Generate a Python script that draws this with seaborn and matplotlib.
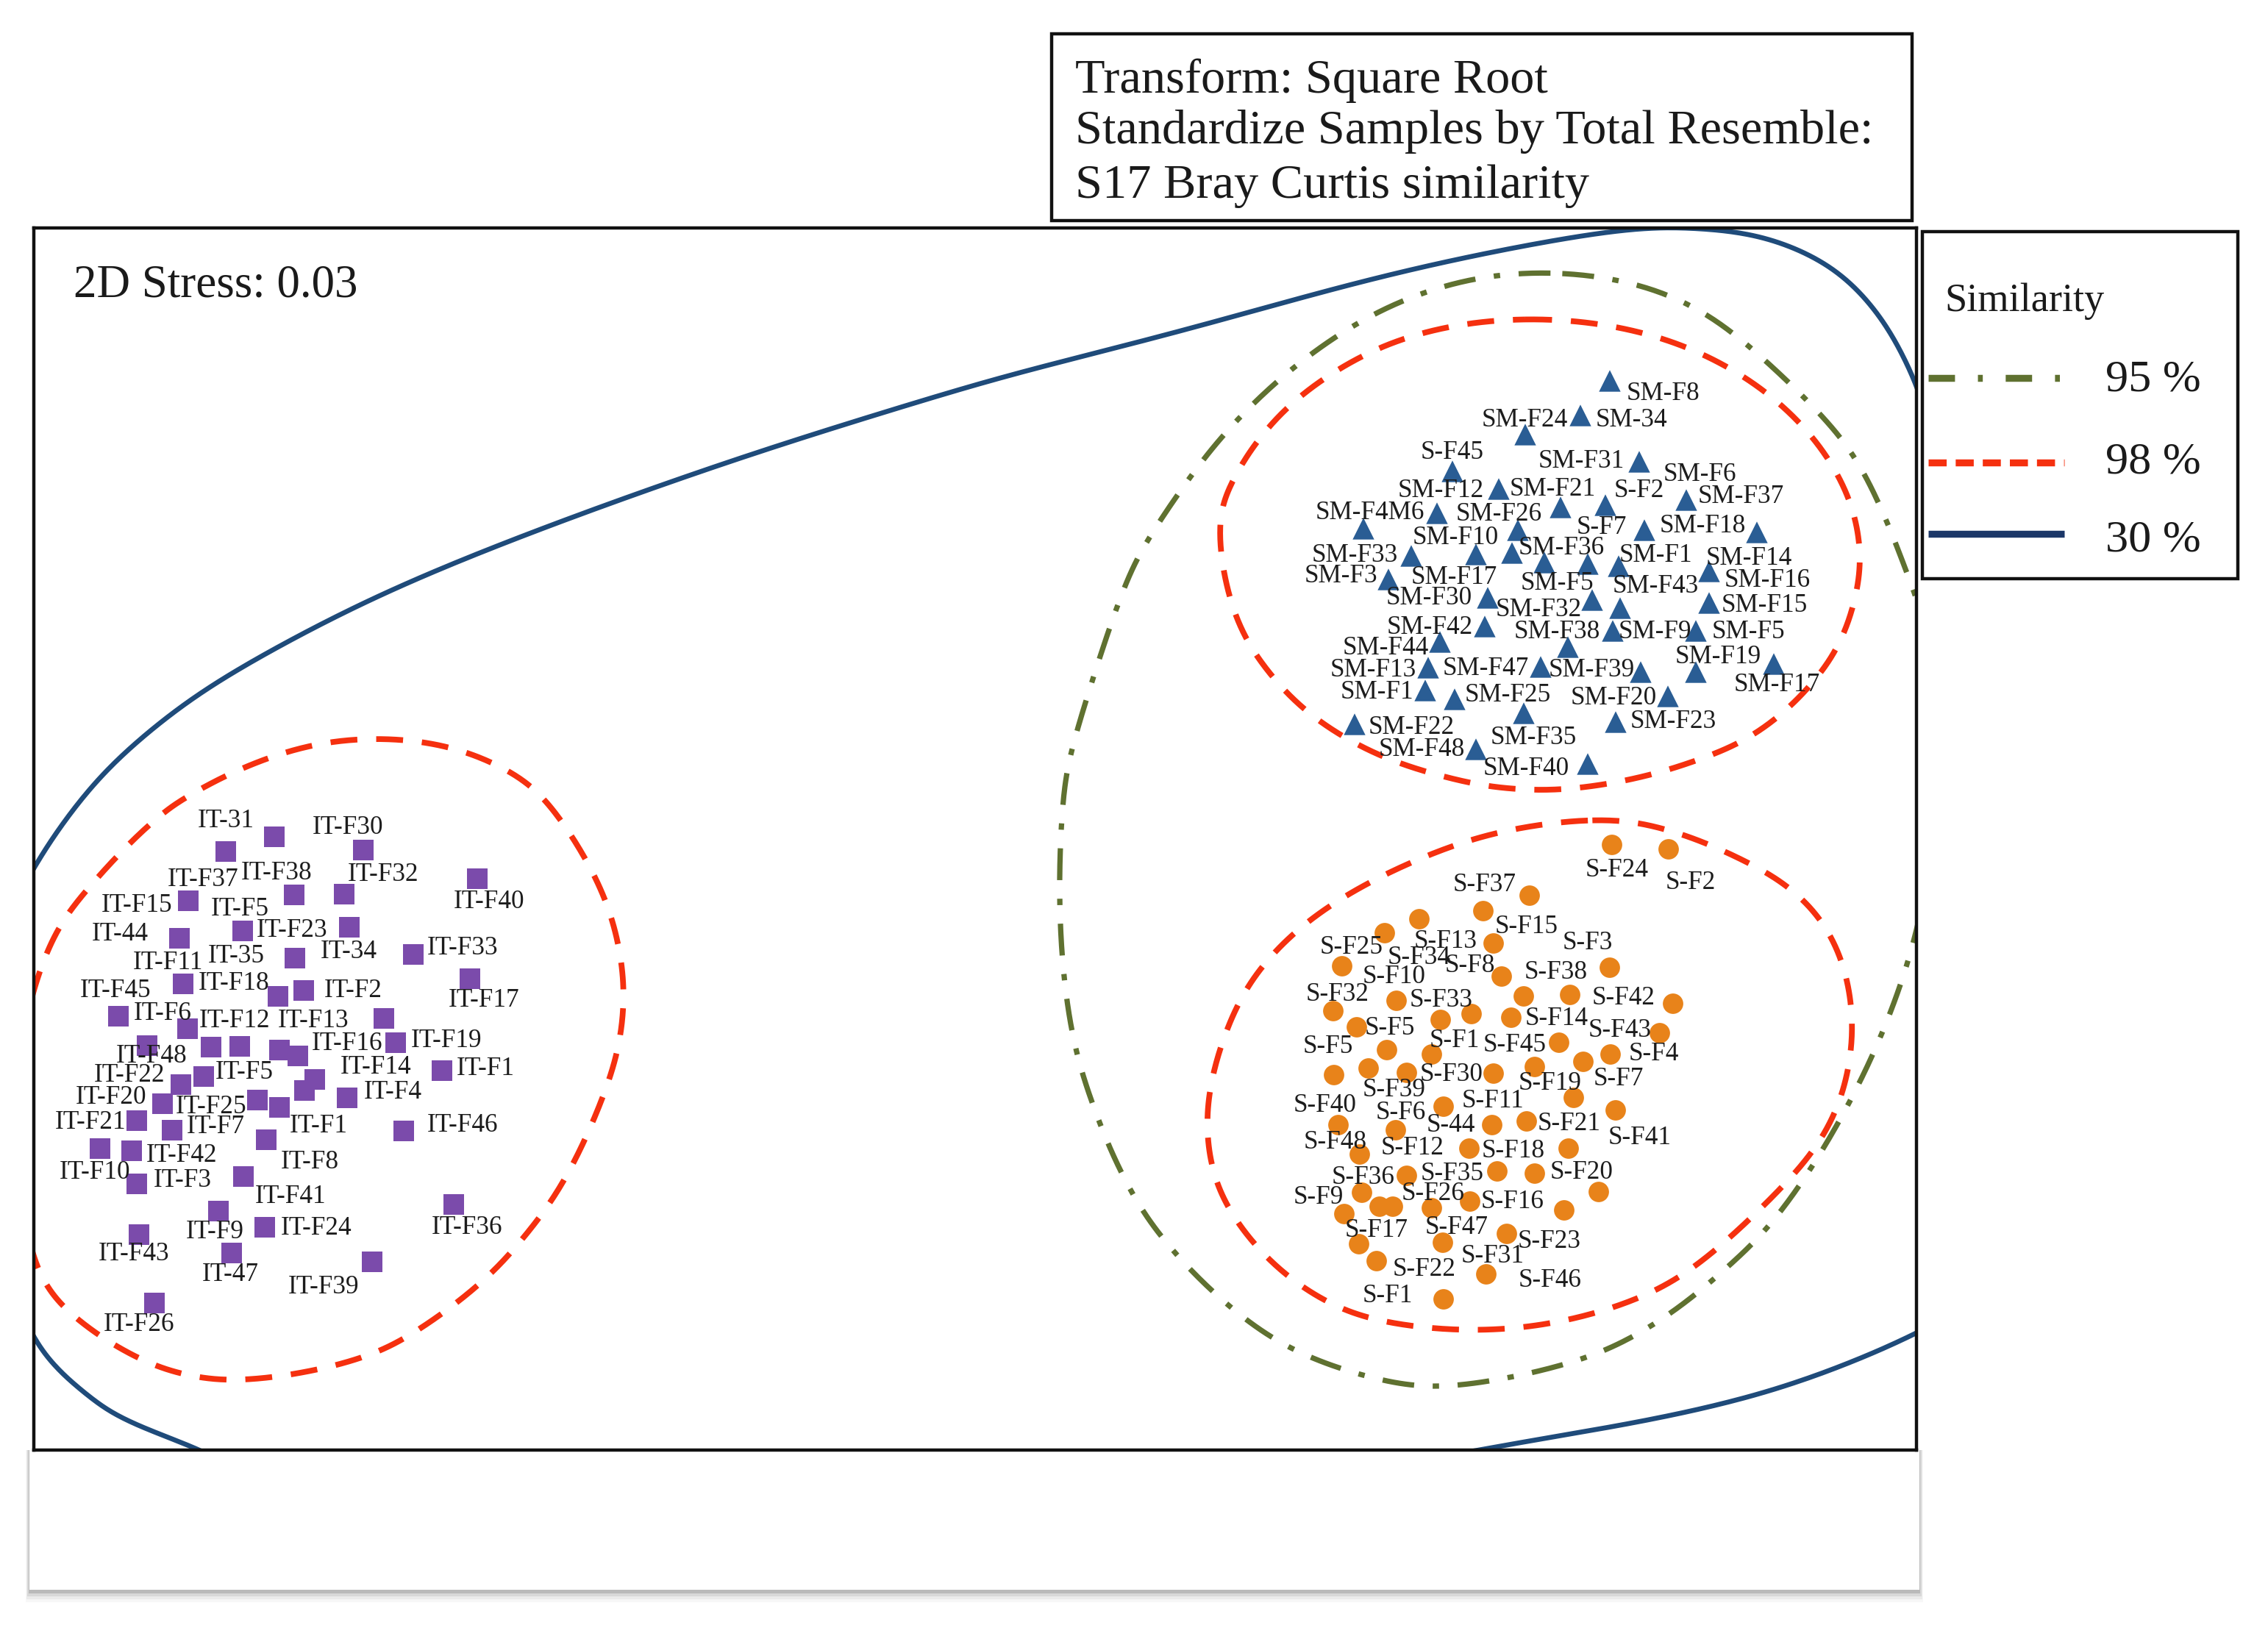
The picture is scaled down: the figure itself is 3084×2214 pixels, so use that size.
import matplotlib
matplotlib.use("Agg")
import matplotlib.pyplot as plt
from matplotlib.patches import Rectangle
import numpy as np
import pandas as pd
import seaborn as sns

# ordination positions, in reference pixels
it_x = [307,373,494,649,256,400,468,244,330,475,401,562,249,378,413,639,161,522,255,200,287,326,380,405,538,601,277,246,428,414,221,350,380,472,186,234,362,549,136,179,186,331,297,360,617,189,315,506,210]
it_y = [1158,1138,1156,1195,1225,1217,1216,1276,1266,1261,1303,1298,1338,1355,1347,1331,1382,1385,1399,1422,1424,1423,1428,1436,1418,1456,1464,1475,1468,1483,1501,1496,1506,1493,1524,1537,1550,1538,1562,1565,1610,1600,1647,1669,1638,1679,1704,1716,1772]

sm_x = [2189,2149,2074,2229,1975,2038,2293,2122,2183,1954,1854,2064,2236,2389,1919,2007,2056,2100,2159,2201,2324,1888,2023,2165,2324,2203,2019,2193,2306,1958,2132,1942,2095,2231,2306,2412,1938,1978,2268,2072,2197,1842,2007,2159]
sm_y = [518,565,591,628,641,665,680,690,687,698,719,721,721,724,756,754,752,765,767,770,777,788,813,816,820,827,852,858,858,873,880,908,907,914,914,903,939,951,947,970,982,985,1019,1039]

s_x = [2192,2269,2080,2017,1930,1883,2031,1825,2189,2042,2072,2135,1899,2275,1813,2001,2055,1959,1845,2257,2120,1886,1947,2190,2153,2087,1861,1913,1814,2031,2140,1963,2197,2076,2029,1820,1898,2133,1849,1998,2036,2087,1913,1852,2174,1876,1894,1999,1947,2127,1828,2049,1848,1962,1872,2021,1963]
s_y = [1149,1155,1218,1239,1250,1269,1283,1314,1316,1328,1355,1353,1361,1365,1375,1379,1384,1387,1397,1405,1418,1428,1434,1434,1444,1451,1453,1459,1462,1460,1493,1505,1510,1525,1530,1530,1537,1562,1570,1562,1593,1596,1599,1622,1621,1641,1641,1634,1643,1646,1651,1678,1692,1690,1715,1733,1767]

# sample names and where they sit
it_names = ["IT-31","IT-F30","IT-F38","IT-F32","IT-F37","IT-F40","IT-F15","IT-F5","IT-F23","IT-44","IT-F33","IT-34","IT-35","IT-F11","IT-F18","IT-F2","IT-F45","IT-F17","IT-F6","IT-F12","IT-F13","IT-F19","IT-F16","IT-F48","IT-F14","IT-F1","IT-F5","IT-F22","IT-F4","IT-F20","IT-F25","IT-F21","IT-F7","IT-F1","IT-F46","IT-F42","IT-F8","IT-F10","IT-F3","IT-F41","IT-F24","IT-F36","IT-F9","IT-F43","IT-47","IT-F39","IT-F26"]
it_lx = [307,473,376,521,276,665,186,326,397,163,629,474,321,228,318,480,157,658,221,319,426,607,472,206,511,660,332,176,534,151,287,123,293,433,629,247,421,129,248,395,430,635,292,182,313,440,189]
it_ly = [1114,1123,1185,1187,1194,1224,1229,1234,1263,1268,1287,1292,1298,1307,1335,1345,1345,1358,1376,1386,1386,1413,1417,1434,1449,1451,1456,1460,1483,1490,1503,1524,1530,1529,1528,1569,1578,1592,1603,1625,1668,1667,1673,1703,1731,1748,1799]

sm_names = ["SM-F8","SM-F24","SM-34","S-F45","SM-F31","SM-F6","SM-F12","SM-F21","S-F2","SM-F37","SM-F4M6","SM-F26","S-F7","SM-F18","SM-F10","SM-F36","SM-F33","SM-F1","SM-F14","SM-F3","SM-F17","SM-F5","SM-F16","SM-F43","SM-F30","SM-F15","SM-F32","SM-F42","SM-F38","SM-F9","SM-F5","SM-F44","SM-F19","SM-F13","SM-F47","SM-F39","SM-F17","SM-F1","SM-F25","SM-F20","SM-F23","SM-F22","SM-F35","SM-F48","SM-F40"]
sm_lx = [2262,2073,2218,1975,2150,2311,1959,2111,2229,2367,1863,2038,2178,2315,1979,2123,1842,2251,2378,1823,1977,2117,2403,2251,1943,2399,2092,1944,2117,2250,2377,1884,2336,1867,2020,2164,2416,1872,2050,2194,2275,1919,2085,1933,2075]
sm_ly = [533,569,568,612,624,643,665,662,664,673,695,696,715,713,729,743,753,752,756,781,783,790,786,795,811,820,826,850,857,856,857,879,891,908,907,908,928,939,943,946,979,987,1000,1016,1043]

s_names = ["S-F24","S-F2","S-F37","S-F15","S-F13","S-F3","S-F25","S-F34","S-F8","S-F38","S-F10","S-F32","S-F42","S-F33","S-F14","S-F5","S-F43","S-F1","S-F45","S-F5","S-F4","S-F30","S-F7","S-F39","S-F19","S-F11","S-F40","S-F6","S-F21","S-44","S-F41","S-F48","S-F12","S-F18","S-F35","S-F20","S-F36","S-F26","S-F9","S-F16","S-F47","S-F17","S-F23","S-F31","S-F22","S-F46","S-F1"]
s_lx = [2199,2299,2019,2076,1966,2159,1838,1930,1999,2116,1896,1819,2208,1960,2117,1890,2203,1978,2060,1806,2249,1974,2201,1896,2108,2030,1802,1905,2134,1973,2230,1816,1921,2058,1975,2151,1854,1949,1793,2057,1981,1872,2107,2030,1937,2108,1887]
s_ly = [1181,1198,1201,1258,1278,1280,1286,1300,1311,1320,1326,1350,1355,1358,1383,1396,1399,1413,1419,1421,1431,1459,1465,1480,1471,1495,1501,1511,1526,1528,1545,1551,1559,1563,1594,1592,1599,1621,1626,1632,1667,1671,1686,1706,1724,1739,1760]

# similarity contours, traced points
red_it_x = [66,104,176,230,273,383,517,632,702,746,806,839,850,839,817,768,713,658,565,510,439,335,269,214,154,93,52,32,22,30]
red_it_y = [1286,1226,1146,1099,1073,1020,1001,1020,1055,1091,1182,1269,1357,1434,1500,1609,1681,1744,1812,1840,1862,1878,1873,1859,1829,1785,1733,1650,1530,1400]
red_sm_x = [2077,2216,2324,2420,2495,2528,2528,2506,2476,2432,2372,2312,2240,2143,2078,2019,1959,1899,1840,1790,1750,1710,1680,1662,1658,1679,1733,1830,1937]
red_sm_y = [431,446,484,545,632,720,795,867,915,964,1008,1032,1056,1073,1074,1069,1055,1037,1010,978,943,895,840,770,700,648,566,494,449]
red_s_x = [2163,2047,1939,1815,1732,1682,1649,1640,1653,1690,1740,1815,1897,2013,2130,2229,2312,2411,2486,2515,2519,2503,2453,2387,2312,2237]
red_s_y = [1114,1128,1163,1224,1294,1364,1457,1534,1611,1673,1728,1778,1801,1811,1797,1766,1720,1627,1542,1449,1379,1294,1221,1178,1143,1120]
green_x = [2103,1958,1830,1722,1636,1561,1524,1462,1446,1439,1450,1470,1504,1545,1603,1698,1790,1897,1984,2121,2212,2295,2370,2428,2511,2569,2600,2625,2640,2630,2601,2587,2538,2474,2367,2259]
green_y = [367,387,446,530,622,734,806,1000,1077,1224,1364,1457,1550,1635,1712,1801,1851,1882,1886,1859,1824,1770,1704,1642,1511,1383,1290,1180,1050,900,800,765,642,561,459,392]
blue_top_x = [20,46,113,190,277,383,507,670,861,1053,1244,1400,1615,1830,2044,2206,2281,2367,2453,2528,2581,2608,2625]
blue_top_y = [1230,1179,1080,1005,938,877,813,744,673,607,548,502,449,387,339,312,310,315,341,392,469,530,580]
blue_left_x = [30,50,83,124,174,272,310]
blue_left_y = [1785,1827,1867,1901,1935,1970,1995]
blue_right_x = [1900,2010,2146,2312,2478,2606,2640]
blue_right_y = [1992,1972,1948,1918,1870,1813,1795]

levels = ["95 %", "98 %", "30 %"]
title_lines = ["Transform: Square Root", "Standardize Samples by Total Resemble:", "S17 Bray Curtis similarity"]

RED = "#f5300f"
GREEN = "#5f7130"
BLUE = "#1f4b7a"


def smooth(px, py, closed=True, n=24):
    # catmull-rom through the traced points, then a moving average to take the wobble out
    p = np.column_stack([px, py]).astype(float)
    if closed:
        p = np.vstack([p[-1], p, p[0], p[1]])
    else:
        p = np.vstack([2 * p[0] - p[1], p, 2 * p[-1] - p[-2]])
    t = np.linspace(0, 1, n, endpoint=False)[:, None]
    out = []
    for i in range(1, len(p) - 2):
        a, b, c, d = p[i - 1], p[i], p[i + 1], p[i + 2]
        out.append(0.5 * (2 * b + (c - a) * t + (2 * a - 5 * b + 4 * c - d) * t**2 + (3 * b - a - 3 * c + d) * t**3))
    out.append(p[-2][None, :])
    c = np.vstack(out)
    w = int(n * 1.5)
    if closed:
        pad = np.vstack([c[-w - 1:-1], c, c[1:w + 1]])
    else:
        pad = np.vstack([2 * c[0] - c[w:0:-1], c, 2 * c[-1] - c[-2:-w - 2:-1]])
    kernel = np.ones(w) / w
    res = np.column_stack([np.convolve(pad[:, j], kernel, mode="same") for j in range(2)])
    return res[w:-w]


sns.set_theme(style="white")
plt.rcParams["font.family"] = ["Liberation Serif", "DejaVu Serif"]

fig = plt.figure(figsize=(15.42, 11.07), dpi=200)

# background layer in page pixels: boxes, legend, shadowed block
bg = fig.add_axes([0, 0, 1, 1])
bg.set_xlim(0, 3084)
bg.set_ylim(2214, 0)
bg.axis("off")

for grow, alpha in [(16, 0.05), (12, 0.08), (8, 0.14), (4, 0.26)]:
    bg.add_patch(Rectangle((40 - grow / 3, 1972), 2570 + 2 * grow / 3, 191 + grow, fc="#666666", ec="none", alpha=alpha))
bg.add_patch(Rectangle((40, 1972), 2570, 190, fc="white", ec="none"))

bg.add_patch(Rectangle((1430, 46), 1170, 254, fc="white", ec="#111111", lw=1.6))
for text, yy in zip(title_lines, [110, 179, 253]):
    bg.text(1462, yy, text, fontsize=23.9, va="center", ha="left", color="#1a1a1a")

bg.add_patch(Rectangle((2614, 315), 429, 472, fc="white", ec="#111111", lw=1.6))
bg.text(2644, 410, "Similarity", fontsize=19.6, va="center", ha="left", color="#1a1a1a")
for text, ty, ly, col, dash in zip(levels, [517, 629, 735], [514, 629, 726],
                                   [GREEN, RED, "#1b3768"], [(3.8, 3.3, 0.7, 3.3), (2.6, 1.3), None]):
    line, = bg.plot([2622, 2807], [ly, ly], color=col, lw=3.4, solid_capstyle="butt", dash_capstyle="butt")
    if dash:
        line.set_dashes(dash)
    bg.text(2863, ty, text, fontsize=22.4, va="center", ha="left", color="#1a1a1a")

# main plot, axes box is the frame of the ordination
ax = fig.add_axes([46 / 3084, 1 - 1972 / 2214, 2560 / 3084, 1662 / 2214])
ax.set_facecolor("white")

points = pd.concat([
    pd.DataFrame({"x": it_x, "y": it_y, "group": "IT"}),
    pd.DataFrame({"x": sm_x, "y": sm_y, "group": "SM"}),
    pd.DataFrame({"x": s_x, "y": s_y, "group": "S"}),
])
sns.scatterplot(data=points, x="x", y="y", hue="group", style="group",
                palette={"IT": "#7b4bab", "SM": "#2a5d94", "S": "#e8831a"},
                markers={"IT": "s", "SM": "^", "S": "o"},
                size="group", sizes={"IT": 106, "SM": 112, "S": 100},
                linewidth=0, legend=False, ax=ax, zorder=3)

for px, py in [(red_it_x, red_it_y), (red_sm_x, red_sm_y), (red_s_x, red_s_y)]:
    c = smooth(px, py)
    line, = ax.plot(c[:, 0], c[:, 1], color=RED, lw=2.8, dash_capstyle="butt", zorder=2)
    line.set_dashes((4.7, 3.3))
c = smooth(green_x, green_y)
line, = ax.plot(c[:, 0], c[:, 1], color=GREEN, lw=2.6, dash_capstyle="butt", zorder=1.5)
line.set_dashes((6, 3.5, 1.2, 3.5))
for px, py in [(blue_top_x, blue_top_y), (blue_left_x, blue_left_y), (blue_right_x, blue_right_y)]:
    c = smooth(px, py, closed=False)
    ax.plot(c[:, 0], c[:, 1], color=BLUE, lw=2.4, zorder=1.5)

for names, lx, ly in [(it_names, it_lx, it_ly), (sm_names, sm_lx, sm_ly), (s_names, s_lx, s_ly)]:
    for name, tx, ty in zip(names, lx, ly):
        ax.text(tx, ty + 3, name, fontsize=12.7, ha="center", va="center", color="#1c1c1c", zorder=4)

ax.text(100, 388, "2D Stress: 0.03", fontsize=22.7, ha="left", va="center", color="#1a1a1a")

ax.set_xlim(46, 2606)
ax.set_ylim(1972, 310)
ax.set_xticks([])
ax.set_yticks([])
ax.set_xlabel("")
ax.set_ylabel("")
for spine in ax.spines.values():
    spine.set_color("#111111")
    spine.set_linewidth(1.6)
    spine.set_visible(True)

fig.savefig("out.png", dpi=200)
